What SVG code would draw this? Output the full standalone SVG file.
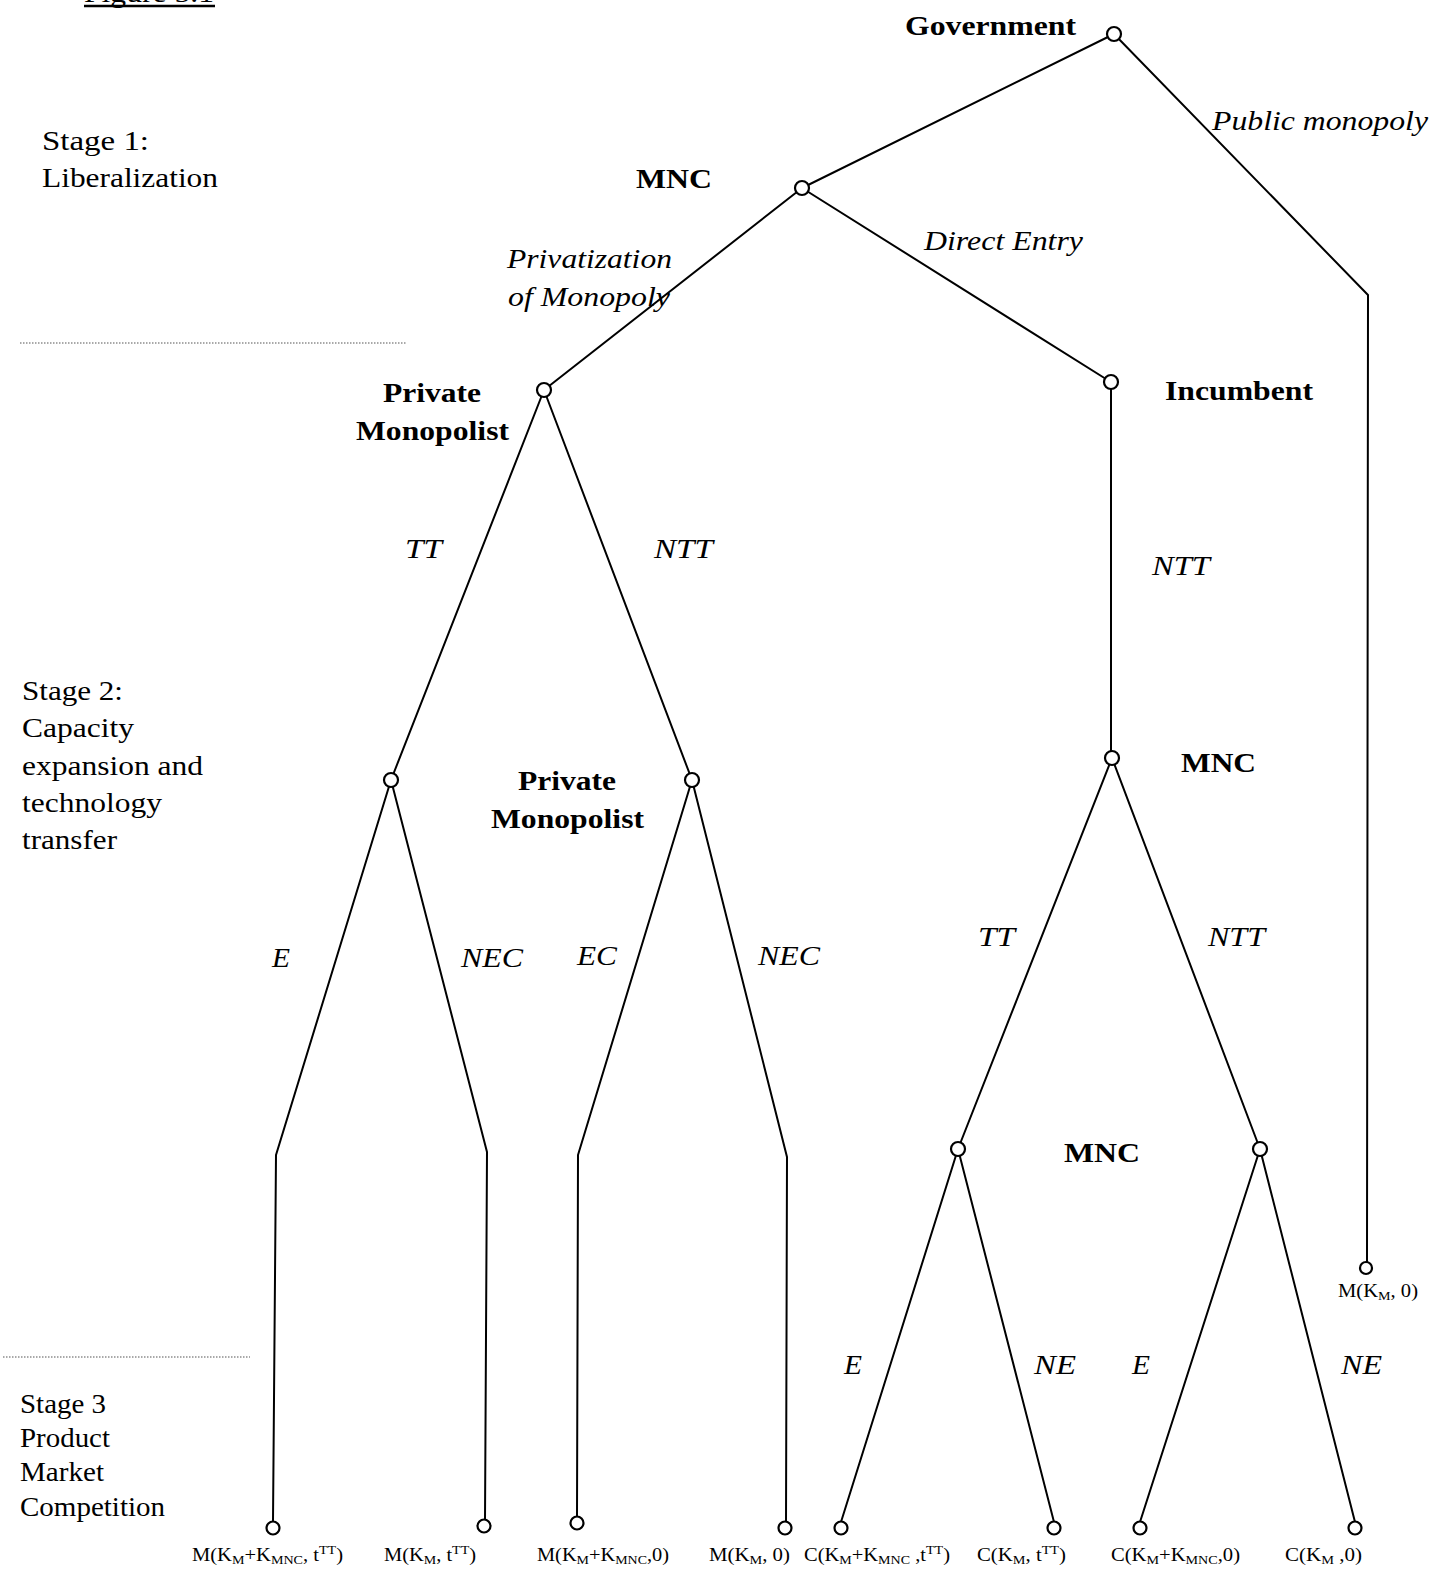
<svg xmlns="http://www.w3.org/2000/svg" width="1437" height="1574" viewBox="0 0 1437 1574">
  <style>
    .edge { fill: none; stroke: #000; stroke-width: 2; stroke-linecap: round; stroke-linejoin: round; }
    .node { fill: #fff; stroke: #000; stroke-width: 2.2; }
    .player { font-family: "Liberation Serif", "Times New Roman", serif; font-weight: bold; font-size: 28px; fill: #000; }
    .move { font-family: "Liberation Serif", "Times New Roman", serif; font-style: italic; font-size: 28px; fill: #000; }
    .stage { font-family: "Liberation Serif", "Times New Roman", serif; font-size: 27px; fill: #000; }
    .payoff { font-family: "Liberation Serif", "Times New Roman", serif; font-size: 19px; fill: #000; }
    .sub { font-size: 13px; }
    .sep { stroke: #555; stroke-width: 1.2; stroke-dasharray: 1.5 1.5; }
  </style>

  <rect width="1437" height="1574" fill="#fff"/>

  <!-- figure caption, clipped by the page top -->
  <g id="caption">
    <text x="84" y="2" class="stage" font-size="24" textLength="130" lengthAdjust="spacingAndGlyphs">Figure 5.1</text>
    <line x1="84" y1="6" x2="215" y2="6" stroke="#000" stroke-width="2.5"/>
  </g>

  <!-- stage labels and separators -->
  <g id="stages">
    <text class="stage" x="42" y="150" textLength="107" lengthAdjust="spacingAndGlyphs">Stage 1:</text>
    <text class="stage" x="42" y="187" textLength="176" lengthAdjust="spacingAndGlyphs">Liberalization</text>
    <line class="sep" x1="20" y1="343" x2="406" y2="343"/>

    <text class="stage" x="22" y="700" textLength="101" lengthAdjust="spacingAndGlyphs">Stage 2:</text>
    <text class="stage" x="22" y="737" textLength="112" lengthAdjust="spacingAndGlyphs">Capacity</text>
    <text class="stage" x="22" y="775" textLength="181" lengthAdjust="spacingAndGlyphs">expansion and</text>
    <text class="stage" x="22" y="812" textLength="140" lengthAdjust="spacingAndGlyphs">technology</text>
    <text class="stage" x="22" y="849" textLength="95" lengthAdjust="spacingAndGlyphs">transfer</text>

    <line class="sep" x1="3" y1="1357" x2="250" y2="1357"/>
    <text class="stage" x="20" y="1413" font-size="25" textLength="86" lengthAdjust="spacingAndGlyphs">Stage 3</text>
    <text class="stage" x="20" y="1447" font-size="25" textLength="90" lengthAdjust="spacingAndGlyphs">Product</text>
    <text class="stage" x="20" y="1481" font-size="25" textLength="84" lengthAdjust="spacingAndGlyphs">Market</text>
    <text class="stage" x="20" y="1516" font-size="25" textLength="145" lengthAdjust="spacingAndGlyphs">Competition</text>
  </g>

  <!-- connectors -->
  <g id="connectors">
    <path class="edge" d="M1114 34 L802 188"/>
    <path class="edge" d="M1114 34 L1368 295 L1367 1262"/>
    <path class="edge" d="M802 188 L544 390"/>
    <path class="edge" d="M802 188 L1106 379"/>
    <path class="edge" d="M1111 382 L1111 758"/>
    <path class="edge" d="M1112 758 L958 1149"/>
    <path class="edge" d="M1112 758 L1260 1149"/>
    <path class="edge" d="M544 390 L391 780"/>
    <path class="edge" d="M544 390 L692 780"/>
    <path class="edge" d="M391 780 L276 1155 L273 1521"/>
    <path class="edge" d="M391 780 L487 1152 L485 1520"/>
    <path class="edge" d="M692 780 L578 1155 L577 1517"/>
    <path class="edge" d="M692 780 L787 1157 L786 1522"/>
    <path class="edge" d="M958 1149 L841 1522"/>
    <path class="edge" d="M958 1149 L1054 1522"/>
    <path class="edge" d="M1260 1149 L1140 1522"/>
    <path class="edge" d="M1260 1149 L1355 1522"/>
  </g>

  <!-- decision nodes -->
  <g id="government">
    <circle class="node" cx="1114" cy="34" r="7"/>
    <text class="player" x="905" y="35" textLength="171" lengthAdjust="spacingAndGlyphs">Government</text>
  </g>
  <g id="mnc-entry">
    <circle class="node" cx="802" cy="188" r="7"/>
    <text class="player" x="636" y="188" textLength="76" lengthAdjust="spacingAndGlyphs">MNC</text>
  </g>
  <g id="private-monopolist">
    <circle class="node" cx="544" cy="390" r="7"/>
    <text class="player" x="383" y="402" textLength="98" lengthAdjust="spacingAndGlyphs">Private</text>
    <text class="player" x="356" y="440" textLength="153" lengthAdjust="spacingAndGlyphs">Monopolist</text>
  </g>
  <g id="incumbent">
    <circle class="node" cx="1111" cy="382" r="7"/>
    <text class="player" x="1165" y="400" textLength="148" lengthAdjust="spacingAndGlyphs">Incumbent</text>
  </g>
  <g id="mnc-transfer">
    <circle class="node" cx="1112" cy="758" r="7"/>
    <text class="player" x="1181" y="772" textLength="75" lengthAdjust="spacingAndGlyphs">MNC</text>
  </g>
  <g id="pm-tt">
    <circle class="node" cx="391" cy="780" r="7"/>
  </g>
  <g id="pm-ntt">
    <circle class="node" cx="692" cy="780" r="7"/>
    <text class="player" x="518" y="790" textLength="98" lengthAdjust="spacingAndGlyphs">Private</text>
    <text class="player" x="491" y="828" textLength="153" lengthAdjust="spacingAndGlyphs">Monopolist</text>
  </g>
  <g id="mnc-tt">
    <circle class="node" cx="958" cy="1149" r="7"/>
    <text class="player" x="1064" y="1162" textLength="76" lengthAdjust="spacingAndGlyphs">MNC</text>
  </g>
  <g id="mnc-ntt">
    <circle class="node" cx="1260" cy="1149" r="7"/>
  </g>

  <!-- move labels -->
  <g id="moves">
    <text class="move" x="1212" y="130" textLength="216" lengthAdjust="spacingAndGlyphs">Public monopoly</text>
    <text class="move" x="924" y="250" textLength="159" lengthAdjust="spacingAndGlyphs">Direct Entry</text>
    <text class="move" x="507" y="268" textLength="165" lengthAdjust="spacingAndGlyphs">Privatization</text>
    <text class="move" x="508" y="306" textLength="162" lengthAdjust="spacingAndGlyphs">of Monopoly</text>
    <text class="move" x="405" y="558" textLength="37" lengthAdjust="spacingAndGlyphs">TT</text>
    <text class="move" x="654" y="558" textLength="59" lengthAdjust="spacingAndGlyphs">NTT</text>
    <text class="move" x="1152" y="575" textLength="58" lengthAdjust="spacingAndGlyphs">NTT</text>
    <text class="move" x="272" y="967" textLength="18" lengthAdjust="spacingAndGlyphs">E</text>
    <text class="move" x="461" y="967" textLength="62" lengthAdjust="spacingAndGlyphs">NEC</text>
    <text class="move" x="577" y="965" textLength="40" lengthAdjust="spacingAndGlyphs">EC</text>
    <text class="move" x="758" y="965" textLength="62" lengthAdjust="spacingAndGlyphs">NEC</text>
    <text class="move" x="978" y="946" textLength="37" lengthAdjust="spacingAndGlyphs">TT</text>
    <text class="move" x="1208" y="946" textLength="57" lengthAdjust="spacingAndGlyphs">NTT</text>
    <text class="move" x="844" y="1374" textLength="18" lengthAdjust="spacingAndGlyphs">E</text>
    <text class="move" x="1034" y="1374" textLength="42" lengthAdjust="spacingAndGlyphs">NE</text>
    <text class="move" x="1132" y="1374" textLength="18" lengthAdjust="spacingAndGlyphs">E</text>
    <text class="move" x="1341" y="1374" textLength="41" lengthAdjust="spacingAndGlyphs">NE</text>
  </g>

  <!-- terminal nodes and payoffs -->
  <g id="leaf-public">
    <circle class="node" cx="1366" cy="1268" r="6"/>
    <text class="payoff" x="1338" y="1297" font-size="17" textLength="80" lengthAdjust="spacingAndGlyphs">M(K<tspan class="sub" dy="3">M</tspan><tspan dy="-3">, 0)</tspan></text>
  </g>
  <g id="leaf-1">
    <circle class="node" cx="273" cy="1528" r="6.5"/>
    <text class="payoff" x="192" y="1561" textLength="151" lengthAdjust="spacingAndGlyphs">M(K<tspan class="sub" dy="3">M</tspan><tspan dy="-3">+K</tspan><tspan class="sub" dy="3">MNC</tspan><tspan dy="-3">, t</tspan><tspan class="sub" dy="-7">TT</tspan><tspan dy="7">)</tspan></text>
  </g>
  <g id="leaf-2">
    <circle class="node" cx="484" cy="1526" r="6.5"/>
    <text class="payoff" x="384" y="1561" textLength="92" lengthAdjust="spacingAndGlyphs">M(K<tspan class="sub" dy="3">M</tspan><tspan dy="-3">, t</tspan><tspan class="sub" dy="-7">TT</tspan><tspan dy="7">)</tspan></text>
  </g>
  <g id="leaf-3">
    <circle class="node" cx="577" cy="1523" r="6.5"/>
    <text class="payoff" x="537" y="1561" textLength="132" lengthAdjust="spacingAndGlyphs">M(K<tspan class="sub" dy="3">M</tspan><tspan dy="-3">+K</tspan><tspan class="sub" dy="3">MNC</tspan><tspan dy="-3">,0)</tspan></text>
  </g>
  <g id="leaf-4">
    <circle class="node" cx="785" cy="1528" r="6.5"/>
    <text class="payoff" x="709" y="1561" textLength="81" lengthAdjust="spacingAndGlyphs">M(K<tspan class="sub" dy="3">M</tspan><tspan dy="-3">, 0)</tspan></text>
  </g>
  <g id="leaf-5">
    <circle class="node" cx="841" cy="1528" r="6.5"/>
    <text class="payoff" x="804" y="1561" textLength="146" lengthAdjust="spacingAndGlyphs">C(K<tspan class="sub" dy="3">M</tspan><tspan dy="-3">+K</tspan><tspan class="sub" dy="3">MNC</tspan><tspan dy="-3"> ,t</tspan><tspan class="sub" dy="-7">TT</tspan><tspan dy="7">)</tspan></text>
  </g>
  <g id="leaf-6">
    <circle class="node" cx="1054" cy="1528" r="6.5"/>
    <text class="payoff" x="977" y="1561" textLength="89" lengthAdjust="spacingAndGlyphs">C(K<tspan class="sub" dy="3">M</tspan><tspan dy="-3">, t</tspan><tspan class="sub" dy="-7">TT</tspan><tspan dy="7">)</tspan></text>
  </g>
  <g id="leaf-7">
    <circle class="node" cx="1140" cy="1528" r="6.5"/>
    <text class="payoff" x="1111" y="1561" textLength="129" lengthAdjust="spacingAndGlyphs">C(K<tspan class="sub" dy="3">M</tspan><tspan dy="-3">+K</tspan><tspan class="sub" dy="3">MNC</tspan><tspan dy="-3">,0)</tspan></text>
  </g>
  <g id="leaf-8">
    <circle class="node" cx="1355" cy="1528" r="6.5"/>
    <text class="payoff" x="1285" y="1561" textLength="77" lengthAdjust="spacingAndGlyphs">C(K<tspan class="sub" dy="3">M</tspan><tspan dy="-3"> ,0)</tspan></text>
  </g>
</svg>
